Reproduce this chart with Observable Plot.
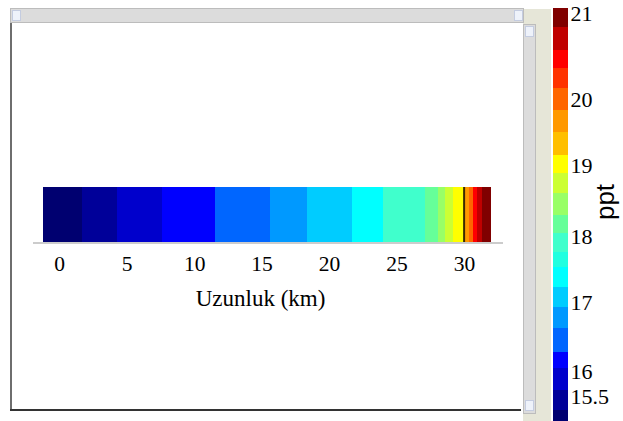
<!DOCTYPE html>
<html><head><meta charset="utf-8">
<script src="https://cdn.jsdelivr.net/npm/d3@7"></script>
<script src="https://cdn.jsdelivr.net/npm/@observablehq/plot@0.6"></script>
<style>
html,body{margin:0;padding:0;background:#fff;}
#wrap{position:relative;width:623px;height:421px;overflow:hidden;background:#fff;}
#wrap svg{position:absolute;left:0;top:0;}
.deco{position:absolute;box-sizing:border-box;}
</style></head><body><div id="wrap"></div>
<script>
// ---- data ----
// strip along the channel: segment edges (km) and salinity (ppt) of each segment
const kmEdges = [-1.2, 1.67, 4.26, 7.60, 11.58, 15.62, 18.34, 21.68, 24.02, 26.37, 27.11, 28.07, 28.59, 29.18, 30.07, 30.37, 30.67, 30.96, 31.33, 32.0];
const salinity = [15.1, 15.4, 15.8, 16.15, 16.45, 16.78, 17.08, 17.38, 17.9, 17.9, 18.17, 18.45, 18.75, 19.02, 19.66, 20.0, 20.47, 20.7, 20.95];
const markerKm = [29.97];
const xTicks = [0, 5, 10, 15, 20, 25, 30];
// colorbar levels (ppt) and colours
const levels = [15.0, 15.22, 15.62, 16.04, 16.28, 16.62, 16.93, 17.23, 17.53, 17.76, 18.04, 18.30, 18.61, 18.89, 19.15, 19.5, 19.83, 20.13, 20.36, 20.58, 20.85, 21.07];
const levelColors = ["#000070","#000099","#0000cc","#0000ff","#0066ff","#0099ff","#00ccff","#00ffff","#20ffe0","#40ffcc","#66ff99","#99ff66","#ccff33","#ffff00","#ffbf00","#ff9900","#ff6600","#ff3300","#ff0000","#c00000","#800000"];
const cbTicks = [15.5, 16, 17, 18, 19, 20, 21];

const wrap = document.getElementById("wrap");
function deco(l, t, w, h, css) {
  const d = document.createElement("div");
  d.className = "deco";
  d.style.cssText = `left:${l}px;top:${t}px;width:${w}px;height:${h}px;${css}`;
  wrap.appendChild(d);
}
// window frame decoration
deco(523, 9, 28, 412, "background:#e6e6d8;");
deco(10, 8, 514, 15, "background:#dcdcdc;border:1px solid #bcbcbc;");
deco(12, 10, 9, 11, "background:#eef2fa;border:1px solid #c4cce0;");
deco(514, 10, 9, 11, "background:#eef2fa;border:1px solid #c4cce0;");
deco(523, 24, 13, 390, "background:#dcdcdc;border:1px solid #bcbcbc;");
deco(525, 26, 9, 11, "background:#eef2fa;border:1px solid #c4cce0;");
deco(525, 400, 9, 11, "background:#eef2fa;border:1px solid #c4cce0;");
deco(10, 23, 2, 388, "background:#6e6e6e;");
deco(10, 409, 511, 2, "background:#333;");
deco(33, 242, 470, 2, "background:#cccccc;");

const colorScale = {type: "threshold", domain: levels.slice(1, -1), range: levelColors};

const segs = salinity.map((s, i) => ({x1: kmEdges[i], x2: kmEdges[i + 1], s}));
const strip = Plot.plot({
  width: 623, height: 421,
  marginLeft: 43, marginRight: 132, marginTop: 187, marginBottom: 179,
  x: {domain: [kmEdges[0], kmEdges[kmEdges.length - 1]]},
  color: colorScale,
  style: {background: "transparent", fontFamily: "'Liberation Serif','Times New Roman',serif", fontSize: "21.5px", color: "#000"},
  marks: [
    Plot.rect(segs, {x1: "x1", x2: "x2", fill: "s", shapeRendering: "crispEdges"}),
    Plot.ruleX(markerKm, {stroke: "#3b2b00", strokeWidth: 2}),
    Plot.axisX({ticks: xTicks, tickSize: 0, tickPadding: 13, label: null, fontSize: 21.5}),
    Plot.text(["Uzunluk (km)"], {frameAnchor: "bottom", dy: 63, dx: -7, fontSize: 23, fill: "#000"})
  ]
});
wrap.appendChild(strip);

// colorbar: tick labels are unevenly spaced, so warp ppt piecewise before the linear y scale
const cbWarp = d3.scaleLinear().domain(cbTicks).range([0, 25, 94, 160, 231, 297, 382]);
const bands = levelColors.map((c, i) => ({lo: levels[i], hi: levels[i + 1]}));
const cbar = Plot.plot({
  width: 623, height: 421,
  marginLeft: 553, marginRight: 55, marginTop: 8, marginBottom: 0,
  y: {transform: cbWarp, axis: null},
  color: colorScale,
  style: {background: "transparent", fontFamily: "'Liberation Serif','Times New Roman',serif", fontSize: "22px", color: "#000", overflow: "visible"},
  marks: [
    Plot.rect(bands, {y1: "lo", y2: "hi", fill: d => (d.lo + d.hi) / 2, shapeRendering: "crispEdges"}),
    Plot.text(cbTicks, {y: d => d, text: d => String(d), frameAnchor: "right", textAnchor: "start", dx: 2, fontSize: 22, fill: "#000"}),
    Plot.text(["ppt"], {frameAnchor: "right", rotate: -90, textAnchor: "middle", dx: 37, dy: -13, fontSize: 26, fontFamily: "'Liberation Sans',Arial,sans-serif", fill: "#000"})
  ]
});
wrap.appendChild(cbar);
</script></body></html>
